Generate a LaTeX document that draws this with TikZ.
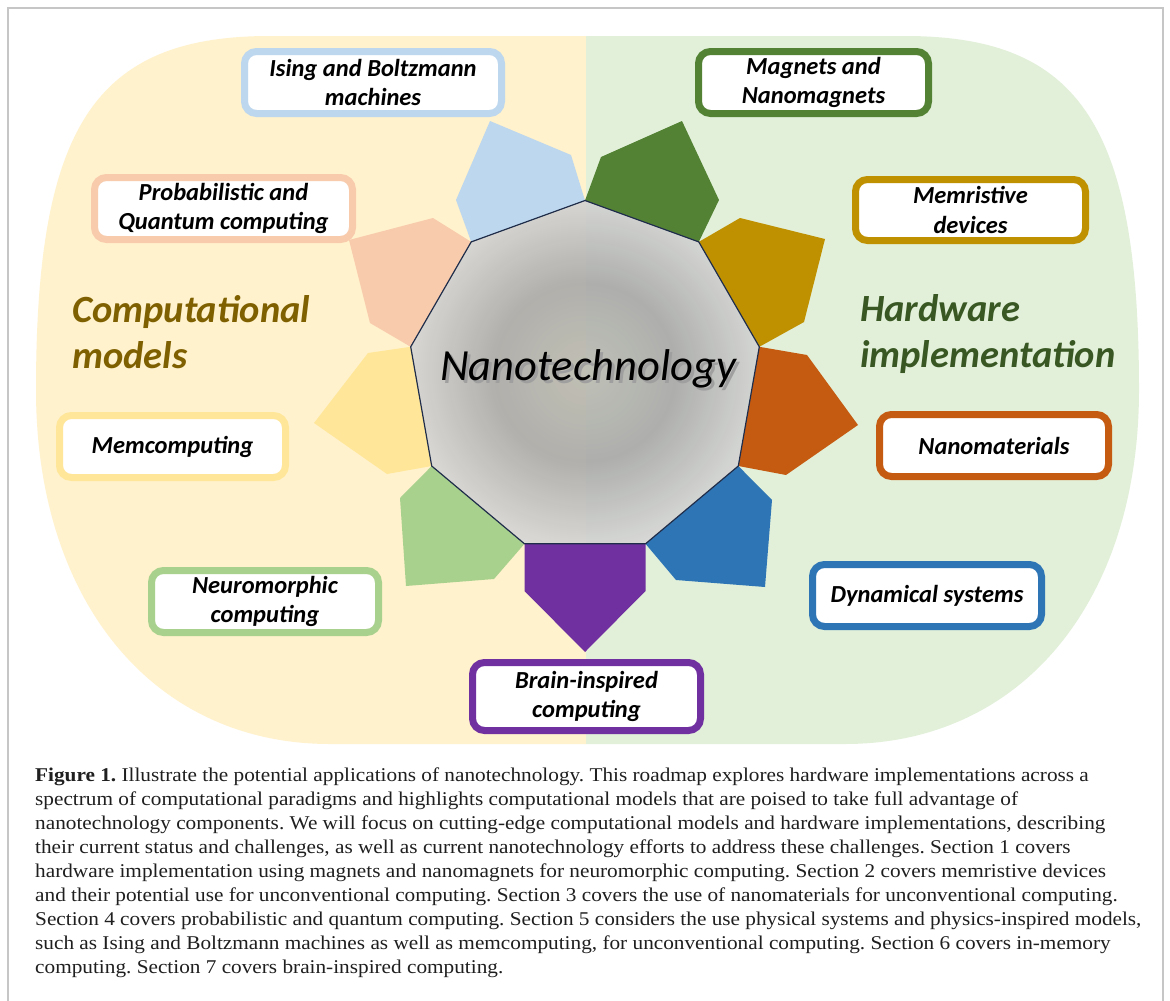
\documentclass[tikz,border=0pt]{standalone}
\usepackage{fontspec}
\setmainfont{Liberation Serif}
\newfontfamily\carlito{Carlito}
\definecolor{bgY}{HTML}{FFF2CC}
\definecolor{bgG}{HTML}{E2F0D9}
\definecolor{cIsing}{HTML}{BDD7EE}
\definecolor{cProb}{HTML}{F8CBAD}
\definecolor{cMemc}{HTML}{FFE699}
\definecolor{cNeuro}{HTML}{A9D18E}
\definecolor{cBrain}{HTML}{7030A0}
\definecolor{cDyn}{HTML}{2E75B6}
\definecolor{cNano}{HTML}{C55A11}
\definecolor{cMemr}{HTML}{BF9000}
\definecolor{cMag}{HTML}{548235}
\definecolor{cCompT}{HTML}{7F6000}
\definecolor{cHardT}{HTML}{385723}
\definecolor{nanoC}{HTML}{BBBBB2}
\definecolor{nanoM}{HTML}{A9A9A9}
\definecolor{nanoO}{HTML}{EFEFEF}
\definecolor{nanoEdge}{HTML}{1F2D4A}
\pgfdeclareradialshading{nanoshade}{\pgfpoint{0bp}{0bp}}{color(0bp)=(nanoC); color(13bp)=(nanoM); color(33bp)=(nanoO); color(50bp)=(nanoO)}
\newcommand{\shadowtext}[1]{\makebox[0pt][l]{\hspace{3pt}\raisebox{-3pt}{\textcolor{gray!75}{#1}}}#1}
\frenchspacing
\begin{document}
\begin{tikzpicture}[x=1pt,y=-1pt,
  lbl/.style={draw=#1, line width=7pt, fill=white, rounded corners=12pt, inner sep=0pt, align=center,
    font=\carlito\bfseries\itshape\fontsize{24.5}{29.5}\selectfont},
  big/.style={anchor=base west, inner sep=0pt, font=\carlito\bfseries\itshape\fontsize{38.5}{46}\selectfont},
  capline/.style={anchor=base west, inner sep=0pt, font=\fontsize{19.5}{24}\selectfont, text=black!88},
  petal/.style={fill=#1, draw=none}]

\useasboundingbox (0,0) rectangle (1170,1001);
\fill[white] (0,0) rectangle (1170,1001);
\draw[line width=2pt, draw=gray!45] (7.5,1001) -- (7.5,7.5) -- (1162.5,7.5) -- (1162.5,1001);

% background halves
\fill[bgY] (586,36) -- (270,36) .. controls (95,36) and (36,126) .. (36,390)
  .. controls (36,602) and (154,744) .. (330,744) -- (586,744) -- cycle;
\fill[bgG] (586,36) -- (905,36) .. controls (1080,36) and (1139,126) .. (1139,390)
  .. controls (1139,602) and (1021,744) .. (845,744) -- (586,744) -- cycle;

% nonagon vertices
\coordinate (n1) at (585,200.5);
\coordinate (n2) at (698.8,241.9);
\coordinate (n3) at (759.3,346.8);
\coordinate (n4) at (738.3,466);
\coordinate (n5) at (645.5,543.8);
\coordinate (n6) at (524.5,543.8);
\coordinate (n7) at (431.7,466);
\coordinate (n8) at (410.7,346.8);
\coordinate (n9) at (471.2,241.9);

% petals
\fill[petal=cMag]   (n1) -- (601,157) -- (682,121) -- (719,200) -- (n2) -- cycle;
\fill[petal=cMemr]  (n2) -- (740,218) -- (825,239) -- (804,322) -- (n3) -- cycle;
\fill[petal=cNano]  (n3) -- (807,355) -- (858,425) -- (786,475) -- (n4) -- cycle;
\fill[petal=cDyn]   (n4) -- (772,500) -- (765,587) -- (676,580) -- (n5) -- cycle;
\fill[petal=cBrain] (n5) -- (645.5,591) -- (585,652) -- (524.5,591) -- (n6) -- cycle;
\fill[petal=cNeuro] (n6) -- (494,579) -- (406,586) -- (400,498) -- (n7) -- cycle;
\fill[petal=cMemc]  (n7) -- (387,474) -- (314,423) -- (368,353) -- (n8) -- cycle;
\fill[petal=cProb]  (n8) -- (370,323) -- (349,240) -- (433,218) -- (n9) -- cycle;
\fill[petal=cIsing] (n9) -- (456,200) -- (490,121) -- (571,155) -- (n1) -- cycle;

% central nonagon
\shade[shading=nanoshade, fill opacity=0.9] (n1) -- (n2) -- (n3) -- (n4) -- (n5) -- (n6) -- (n7) -- (n8) -- (n9) -- cycle;
\draw[nanoEdge, line width=1.2pt, line join=miter] (n1) -- (n2) -- (n3) -- (n4) -- (n5) -- (n6) -- (n7) -- (n8) -- (n9) -- cycle;

\node[anchor=base, inner sep=0pt, text=black, font=\carlito\itshape\fontsize{44.5}{50}\selectfont] (nano) at (588,380) {\shadowtext{Nanotechnology}};

% labels
\node[lbl=cIsing, minimum width=257pt, minimum height=62pt] (ising) at (373,82.5) {Ising and Boltzmann\\machines};
\node[lbl=cProb, minimum width=258pt, minimum height=62pt] (prob) at (223.5,208.5) {Probabilistic and\\Quantum computing};
\node[lbl=cMag, minimum width=230pt, minimum height=62pt] (mag) at (813.5,82.5) {Magnets and\\Nanomagnets};
\node[lbl=cMemr, minimum width=230pt, minimum height=61pt] (memr) at (970.5,210) {Memristive\\devices};
\node[lbl=cMemc, minimum width=226pt, minimum height=62pt] (memc) at (172.5,446.5) {Memcomputing};
\node[lbl=cNeuro, minimum width=227pt, minimum height=62pt] (neuro) at (265,601.5) {Neuromorphic\\computing};
\node[lbl=cBrain, minimum width=228pt, minimum height=68pt] (brain) at (586.5,696.5) {Brain-inspired\\computing};
\node[lbl=cNano, minimum width=229pt, minimum height=62pt] (nanom) at (994,445.5) {Nanomaterials};
\node[lbl=cDyn, minimum width=229pt, minimum height=62pt] (dyn) at (927,595.5) {Dynamical systems};

% group titles
\node[big, text=cCompT] (comp1) at (72,322) {Computational};
\node[big, text=cCompT] (comp2) at (72,368) {models};
\node[big, text=cHardT] (hard1) at (860,321) {Hardware};
\node[big, text=cHardT] (hard2) at (860,367) {implementation};

% caption
\node[capline] (cap1) at (35,781) {\scalebox{1.09}[1]{\textbf{Figure 1.} Illustrate the potential applications of nanotechnology. This roadmap explores hardware implementations across a}};
\node[capline] (cap2) at (35,805) {\scalebox{1.09}[1]{spectrum of computational paradigms and highlights computational models that are poised to take full advantage of}};
\node[capline] (cap3) at (35,829) {\scalebox{1.09}[1]{nanotechnology components. We will focus on cutting-edge computational models and hardware implementations, describing}};
\node[capline] (cap4) at (35,853) {\scalebox{1.09}[1]{their current status and challenges, as well as current nanotechnology efforts to address these challenges. Section 1 covers}};
\node[capline] (cap5) at (35,877) {\scalebox{1.09}[1]{hardware implementation using magnets and nanomagnets for neuromorphic computing. Section 2 covers memristive devices}};
\node[capline] (cap6) at (35,901) {\scalebox{1.09}[1]{and their potential use for unconventional computing. Section 3 covers the use of nanomaterials for unconventional computing.}};
\node[capline] (cap7) at (35,925) {\scalebox{1.09}[1]{Section 4 covers probabilistic and quantum computing. Section 5 considers the use physical systems and physics-inspired models,}};
\node[capline] (cap8) at (35,949) {\scalebox{1.09}[1]{such as Ising and Boltzmann machines as well as memcomputing, for unconventional computing. Section 6 covers in-memory}};
\node[capline] (cap9) at (35,973) {\scalebox{1.09}[1]{computing. Section 7 covers brain-inspired computing.}};
\end{tikzpicture}
\end{document}
